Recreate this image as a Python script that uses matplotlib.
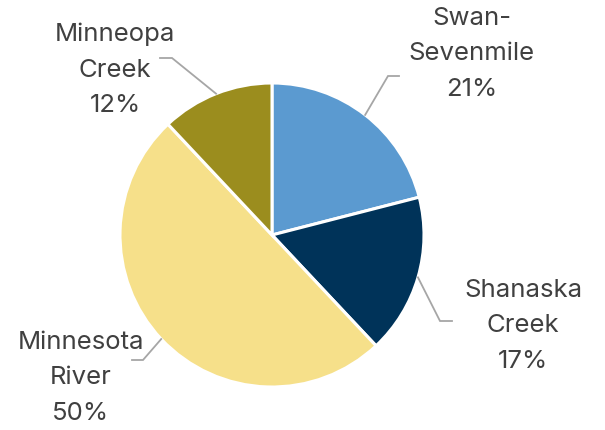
import matplotlib
matplotlib.use("Agg")
import matplotlib.pyplot as plt
import numpy as np

names = ["Swan-\nSevenmile", "Shanaska\nCreek", "Minnesota\nRiver", "Minneopa\nCreek"]
shares = [21, 17, 50, 12]
colors = ["#5B9AD0", "#003359", "#F6E08A", "#9B8D1E"]

# label layout in pixel space (y down): text centre, elbow, end of horizontal tick
text_xy = [(472, 54), (523, 326), (81, 378), (115, 70)]
elbow_xy = [(388, 76), (440, 321), (143, 360), (172, 58)]
tick_end_x = [399, 452, 132, 160]

W, H = 605, 430
fig = plt.figure(figsize=(W / 100, H / 100), dpi=100)
ax = fig.add_axes([0, 0, 1, 1])

cx, cy, r = 272, H - 235, 152
wedges, _ = ax.pie(shares, colors=colors, startangle=90, counterclock=False,
                   center=(cx, cy), radius=r, frame=True,
                   wedgeprops=dict(edgecolor="white", linewidth=2.2))
ax.set_xlim(0, W)
ax.set_ylim(0, H)
ax.set_aspect("equal")
ax.axis("off")

for w, name, val, (tx, ty), (ex, ey), endx in zip(wedges, names, shares, text_xy, elbow_xy, tick_end_x):
    mid = np.deg2rad((w.theta1 + w.theta2) / 2)
    px, py = cx + r * np.cos(mid), cy + r * np.sin(mid)
    ax.plot([px, ex, endx], [py, H - ey, H - ey], color="#A6A6A6", lw=1.3,
            solid_joinstyle="miter")
    ax.text(tx, H - ty, f"{name}\n{val}%", ha="center", va="center",
            fontsize=18.5, color="#404040", family="Inter", linespacing=1.7)

fig.savefig("out.png", dpi=100)
